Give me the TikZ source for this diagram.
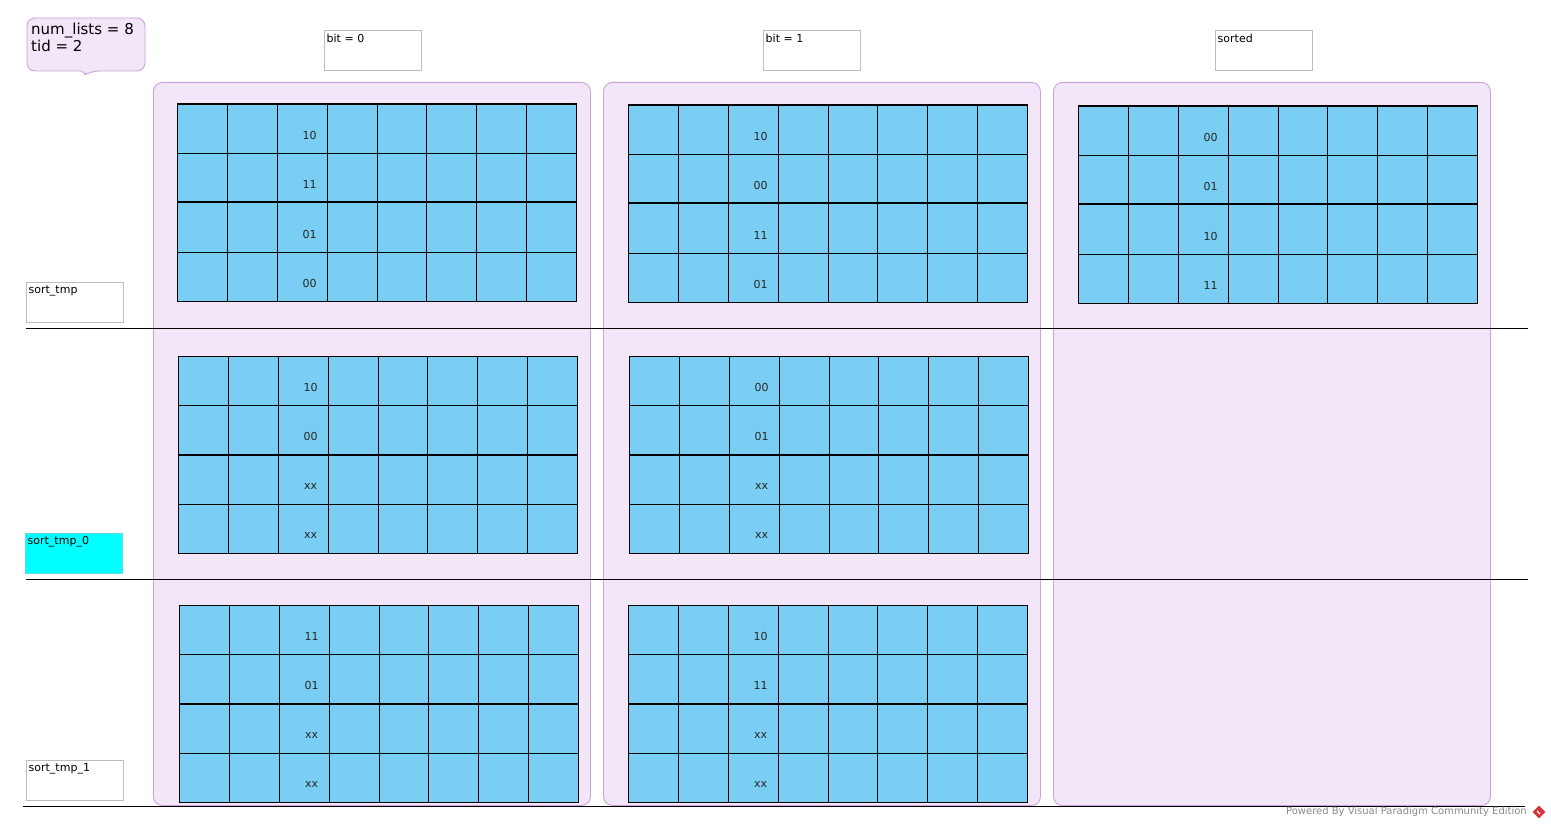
\documentclass[tikz,border=0pt]{standalone}
\usepackage{fontspec}
\setmainfont{DejaVu Sans}
\usetikzlibrary{calc}
\definecolor{cellblue}{HTML}{7ACEF3}
\definecolor{panelfill}{HTML}{F3E6F8}
\definecolor{paneldraw}{HTML}{C9A3D8}
\definecolor{labgray}{HTML}{BDBDBD}
\definecolor{wmgray}{HTML}{8A8A8A}
\definecolor{logored}{HTML}{D8323C}
\definecolor{aqua}{HTML}{00FFFF}
\tikzset{
  cell/.style={draw=black, fill=cellblue, line width=0.8pt, minimum width=49.875pt, minimum height=49.25pt, inner sep=0pt, anchor=north west},
  val/.style={font=\fontsize{11}{13}\selectfont, inner sep=0pt, text=black!85},
  panel/.style={draw=paneldraw, fill=panelfill, rounded corners=9pt, line width=0.9pt, anchor=north west, minimum width=437pt, minimum height=723pt, inner sep=0pt},
  labbox/.style={draw=labgray, line width=0.8pt, anchor=north west, minimum width=97pt, minimum height=40pt, inner sep=0pt},
  labtxt/.style={anchor=north west, inner xsep=2.5pt, inner ysep=3.5pt, font=\fontsize{11}{13}\selectfont},
  sep/.style={draw=black, line width=0.9pt},
}
\newcommand{\mkgrid}[7]{%
  \foreach \ri/\vv in {0/#4,1/#5,2/#6,3/#7} {
    \foreach \ci in {0,...,7} {
      \node[cell] (#1-\ci-\ri) at ({#2+\ci*49.875},{#3+\ri*49.25}) {};
    }
    \node[val] (#1-v\ri) at ($(#1-2-\ri.center)+(7.5,6.5)$) {\vv};
  }
  \draw[line width=2pt] (#1-0-2.north west) -- (#1-7-2.north east);
  \draw[line width=1pt] (#1-0-0.north west) rectangle (#1-7-3.south east);
}
\begin{document}
\begin{tikzpicture}[x=1pt,y=-1pt]
\useasboundingbox (0,0) rectangle (1551,829);
\fill[white] (0,0) rectangle (1551,829);

% panels
\node[panel] (p1) at (153,82) {};
\node[panel] (p2) at (603,82) {};
\node[panel] (p3) at (1053,82) {};

% separators
\coordinate (s1a) at (26,328); \coordinate (s1b) at (1528,328);
\coordinate (s2a) at (26,579); \coordinate (s2b) at (1528,579);
\coordinate (s3a) at (23,806); \coordinate (s3b) at (1525,806);
\draw[sep] (s1a) -- (s1b);
\draw[sep] (s2a) -- (s2b);
\draw[sep] (s3a) -- (s3b);

% grids
\mkgrid{gA}{177}{104}{10}{11}{01}{00}
\mkgrid{gB}{628}{105}{10}{00}{11}{01}
\mkgrid{gC}{1078}{106}{00}{01}{10}{11}
\mkgrid{gD}{178}{356}{10}{00}{xx}{xx}
\mkgrid{gE}{629}{356}{00}{01}{xx}{xx}
\mkgrid{gF}{179}{605}{11}{01}{xx}{xx}
\mkgrid{gG}{628}{605}{10}{11}{xx}{xx}

% callout
\path[draw=paneldraw, fill=panelfill, line width=0.9pt, rounded corners=8pt]
  (27,18) -- (145,18) -- (145,71) -- (91,71) [sharp corners] -- (86,74) -- (81,71) [rounded corners=8pt] -- (27,71) -- cycle;
\node[anchor=north west, align=left, inner sep=0pt, font=\fontsize{15}{17}\selectfont] (info) at (31,23) {num\_lists = 8\\tid = 2};

% label boxes
\node[labbox, label={[labtxt]north west:bit = 0}] (bit0) at (324,30) {};
\node[labbox, label={[labtxt]north west:bit = 1}] (bit1) at (763,30) {};
\node[labbox, label={[labtxt]north west:sorted}] (sorted) at (1215,30) {};
\node[labbox, label={[labtxt]north west:sort\_tmp}] (st) at (26,282) {};
\node[labbox, fill=aqua, draw=labgray!50!aqua, label={[labtxt]north west:sort\_tmp\_0}] (st0) at (25,533) {};
\node[labbox, label={[labtxt]north west:sort\_tmp\_1}] (st1) at (26,760) {};

% watermark
\node[anchor=east, inner sep=0pt, text=wmgray, font=\fontsize{10}{12}\selectfont] (wm) at (1527,812) {Powered By Visual Paradigm Community Edition};
\node[fill=logored, rotate=45, minimum size=9pt, inner sep=0pt] (logo) at (1539,812) {};
\draw[white, line width=1.2pt] ($(logo.center)+(-2,-1)$) -- ($(logo.center)+(1,2)$);
\end{tikzpicture}
\end{document}
